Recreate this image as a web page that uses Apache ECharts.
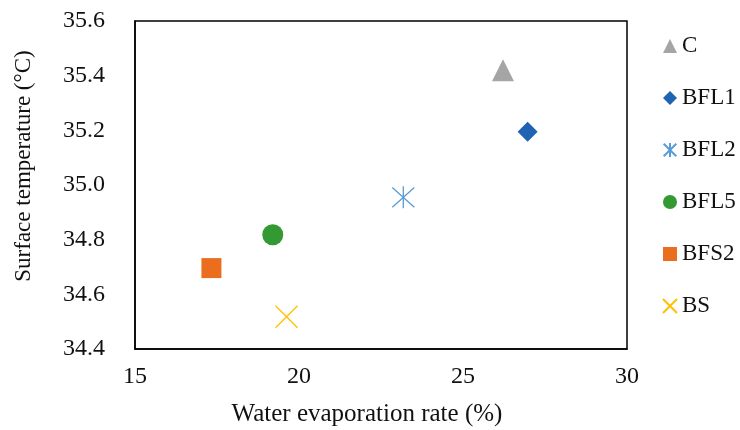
<!DOCTYPE html>
<html>
<head>
<meta charset="utf-8">
<script src="https://cdn.jsdelivr.net/npm/echarts@6/dist/echarts.min.js"></script>
<style>html,body{margin:0;padding:0;background:#fff}#c{width:740px;height:430px}</style>
</head>
<body>
<div id="c"></div>
<script>
var seriesNames = ['C', 'BFL1', 'BFL2', 'BFL5', 'BFS2', 'BS'];
var evaporation = [26.22, 26.97, 23.18, 19.2, 17.33, 19.62];
var temperature = [35.42, 35.195, 34.955, 34.818, 34.696, 34.518];
var xTicks = [15, 20, 25, 30];
var yTicks = [34.4, 34.6, 34.8, 35.0, 35.2, 35.4, 35.6];

var FONT = "'Liberation Serif', 'Times New Roman', serif";
var styles = [
  {symbol: 'triangle', size: 22, item: {color: '#A5A5A5', opacity: 1}},
  {symbol: 'diamond', size: 20, item: {color: '#1F63B2', opacity: 1}},
  {symbol: 'path://M10,0 L10,20 M1,1 L19,19 M1,19 L19,1', size: 22, item: {color: 'transparent', borderColor: '#5B9BD5', borderWidth: 1.3, opacity: 1}},
  {symbol: 'circle', size: 21, item: {color: '#339933', opacity: 1}},
  {symbol: 'rect', size: 20, item: {color: '#EB6E1E', opacity: 1}},
  {symbol: 'path://M0,0 L20,20 M0,20 L20,0', size: 22, item: {color: 'transparent', borderColor: '#FFC000', borderWidth: 1.3, opacity: 1}}
];

var series = seriesNames.map(function (n, i) {
  return {
    name: n,
    type: 'scatter',
    symbol: styles[i].symbol,
    symbolSize: styles[i].size,
    itemStyle: styles[i].item,
    data: [[evaporation[i], temperature[i]]]
  };
});

var chart = echarts.init(document.getElementById('c'));
chart.setOption({
  animation: false,
  grid: {left: 135, right: 113, top: 21, bottom: 81, outerBoundsMode: 'none', containLabel: false,
    show: true, borderColor: '#000', borderWidth: 1.5},
  legend: {
    orient: 'vertical', left: 657, top: 29,
    itemWidth: 14, itemHeight: 14, itemGap: 28,
    data: seriesNames.map(function (n, i) {
      return {name: n, icon: styles[i].symbol};
    }),
    textStyle: {fontFamily: FONT, fontSize: 23, color: '#111', lineHeight: 24}
  },
  xAxis: {
    type: 'value', min: xTicks[0], max: xTicks[xTicks.length - 1], interval: 5,
    name: 'Water evaporation rate (%)', nameLocation: 'middle', nameGap: 53,
    nameTextStyle: {fontFamily: FONT, fontSize: 25, color: '#111', padding: [0, 28, 0, 0]},
    axisLine: {show: true, lineStyle: {color: '#000', width: 1.5}},
    axisTick: {show: false}, splitLine: {show: false},
    axisLabel: {fontFamily: FONT, fontSize: 24, color: '#111', margin: 16}
  },
  yAxis: {
    type: 'value', min: yTicks[0], max: yTicks[yTicks.length - 1], interval: 0.2,
    name: 'Surface temperature (°C)', nameLocation: 'middle', nameGap: 100,
    nameTextStyle: {fontFamily: FONT, fontSize: 23, color: '#111', padding: [0, 0, 0, 38]},
    axisLine: {show: true, lineStyle: {color: '#000', width: 1.5}},
    axisTick: {show: false}, splitLine: {show: false},
    axisLabel: {fontFamily: FONT, fontSize: 24, color: '#111', margin: 30,
      formatter: function (v) { return v.toFixed(1); }}
  },
  series: series
});
</script>
</body>
</html>
